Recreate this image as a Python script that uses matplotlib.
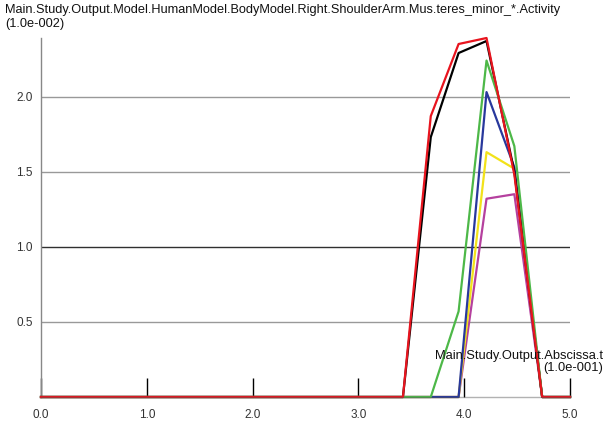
import matplotlib
matplotlib.use("Agg")
import matplotlib.pyplot as plt

# Sample times (units of 1.0e-001) and muscle activities (units of 1.0e-002)
t = [0.0, 0.263, 0.526, 0.789, 1.053, 1.316, 1.579, 1.842, 2.105, 2.368,
     2.632, 2.895, 3.158, 3.421, 3.684, 3.947, 4.211, 4.474, 4.737, 5.0]

zeros13 = [0.0] * 13
act_magenta = zeros13 + [0.0, 0.0, 0.0, 1.32, 1.35, 0.0, 0.0]
act_yellow = zeros13 + [0.0, 0.0, 0.0, 1.63, 1.52, 0.0, 0.0]
act_blue = zeros13 + [0.0, 0.0, 0.0, 2.03, 1.53, 0.0, 0.0]
act_black = zeros13 + [0.0, 1.73, 2.29, 2.37, 1.50, 0.0, 0.0]
act_green = zeros13 + [0.0, 0.0, 0.57, 2.24, 1.67, 0.0, 0.0]
act_red = zeros13 + [0.0, 1.87, 2.35, 2.39, 1.48, 0.0, 0.0]

series = [
    (act_magenta, "#b5409e"),
    (act_yellow, "#f2e21a"),
    (act_blue, "#28389c"),
    (act_black, "#000000"),
    (act_green, "#4db848"),
    (act_red, "#e8141e"),
]

x_ticks = [0.0, 1.0, 2.0, 3.0, 4.0, 5.0]
y_grid = [0.5, 1.0, 1.5, 2.0]

plt.rcParams["font.family"] = ["Liberation Sans", "DejaVu Sans"]

fig = plt.figure(figsize=(6.05, 4.26), dpi=100)
ax = fig.add_axes([41 / 605, 29 / 426, 529 / 605, 359 / 426])
ax.set_xlim(0, 5.0)
ax.set_ylim(0, 2.39)

# horizontal reference lines
for yv in y_grid:
    ax.axhline(yv, color="#303030" if yv == 1.0 else "#999999", lw=1.0, zorder=1)

for values, color in series:
    ax.plot(t, values, color=color, lw=1.6, zorder=3, clip_on=False)

for side in ("top", "right"):
    ax.spines[side].set_visible(False)
ax.spines["left"].set_color("#888888")
ax.spines["left"].set_linewidth(1.0)
# baseline sits over the curves, darkening them where they lie at zero
ax.spines["bottom"].set_color("#555555")
ax.spines["bottom"].set_alpha(0.45)
ax.spines["bottom"].set_linewidth(1.0)
ax.spines["bottom"].set_zorder(4)

ax.set_xticks(x_ticks)
ax.set_xticklabels([f"{v:.1f}" for v in x_ticks])
ax.tick_params(axis="x", direction="in", length=14, width=1.0, color="black",
               labelsize=8.5, pad=9, labelcolor="#333333")
ax.set_yticks(y_grid)
ax.set_yticklabels([f"{v:.1f}" for v in y_grid])
ax.tick_params(axis="y", length=0, labelsize=8.5, pad=6, labelcolor="#333333")

fig.text(5 / 605, 1 - 4 / 426,
         "Main.Study.Output.Model.HumanModel.BodyModel.Right.ShoulderArm.Mus.teres_minor_*.Activity\n(1.0e-002)",
         ha="left", va="top", fontsize=9.2, linespacing=1.2, color="#111111")
fig.text(603 / 605, 1 - 350 / 426,
         "Main.Study.Output.Abscissa.t\n(1.0e-001)",
         ha="right", va="top", fontsize=9.3, linespacing=1.0, color="#111111",
         multialignment="right")

fig.savefig("out.png", dpi=100)
